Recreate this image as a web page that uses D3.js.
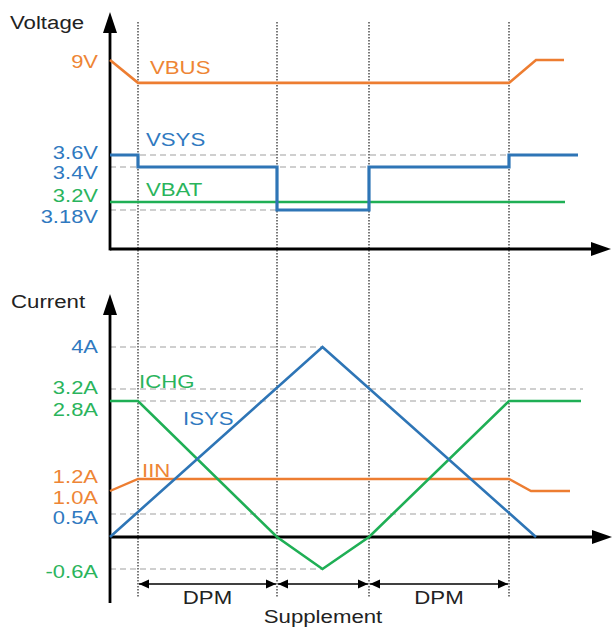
<!DOCTYPE html>
<html><head><meta charset="utf-8">
<script src="https://cdn.jsdelivr.net/npm/d3@7"></script>
<style>
html,body{margin:0;padding:0;background:#fff;}
svg text{font-family:"Liberation Sans",Arial,sans-serif;font-size:19px;}
</style></head>
<body><svg id="c" width="612" height="628"></svg>
<script>
// ---------- data ----------
const phaseTimes = [5.6, 33.4, 51.8, 79.8];           // boundaries between phases
const phaseLabels = ["DPM", "Supplement", "DPM"];

const vbusT = [0, 5.6, 79.8, 85.2, 90.8];
const vbusV = [9, 7.7, 7.7, 9, 9];
const vsysT = [0, 5.6, 5.6, 33.4, 33.4, 51.8, 51.8, 79.8, 79.8, 93.6];
const vsysV = [3.6, 3.6, 3.4, 3.4, 3.18, 3.18, 3.4, 3.4, 3.6, 3.6];
const vbatT = [0, 91];
const vbatV = [3.2, 3.2];

const isysT = [0, 42.5, 85.2];
const isysV = [0, 4, 0];
const ichgT = [0, 5.6, 33.4, 42.5, 51.8, 79.8, 94.2];
const ichgV = [2.8, 2.8, 0, -0.6, 0, 2.8, 2.8];
const iinT = [0, 5.6, 79.8, 84.2, 92];
const iinV = [1.0, 1.2, 1.2, 1.0, 1.0];

const voltTicks = [9, 3.6, 3.4, 3.2, 3.18];
const voltTickLabels = ["9V", "3.6V", "3.4V", "3.2V", "3.18V"];
const voltTickSeries = ["VBUS", "VSYS", "VSYS", "VBAT", "VSYS"];
const currTicks = [4, 3.2, 2.8, 1.2, 1.0, 0.5, -0.6];
const currTickLabels = ["4A", "3.2A", "2.8A", "1.2A", "1.0A", "0.5A", "-0.6A"];
const currTickSeries = ["ISYS", "ICHG", "ICHG", "IIN", "IIN", "ISYS", "ICHG"];

// guide lines: value, end time
const voltGuideV = [3.6, 3.4, 3.18];
const voltGuideEnd = [79.8, 51.8, 33.4];
const currGuideV = [4, 3.2, 2.8, 0.5, -0.6];
const currGuideEnd = [42.5, 94.6, 79.8, 79.8, 42.5];

// ---------- styles ----------
const lineColor = {VBUS:"#ED7D31", VSYS:"#2E75B6", VBAT:"#1FAF55", ISYS:"#2E75B6", ICHG:"#1FAF55", IIN:"#ED7D31"};
const textColor = {VBUS:"#EE8535", VSYS:"#2F79C0", VBAT:"#2AB45C", ISYS:"#2F79C0", ICHG:"#2AB45C", IIN:"#EE8535"};
const SX = 1.17;

const svg = d3.select("#c");
const x = d3.scaleLinear().domain([0, 100]).range([110, 610]);
const yV = d3.scaleLinear().domain([3.18, 3.2, 3.4, 3.6, 9]).range([210, 202, 167, 155, 60]);
const yI = d3.scaleLinear().domain([-0.6, 0, 0.5, 1.0, 1.2, 2.8, 3.2, 4]).range([569, 537, 514, 491, 479, 401, 389, 347]);
const yTopAxis = 249;

function txt(s, px, py, color, anchor) {
  svg.append("text").attr("transform", `translate(${px},${py}) scale(${SX},1)`)
    .attr("text-anchor", anchor || "start").attr("fill", color).text(s);
}

// phase dotted verticals
svg.append("g").selectAll("line").data(phaseTimes).join("line")
  .attr("x1", d => x(d)).attr("x2", d => x(d)).attr("y1", 22).attr("y2", 598)
  .attr("stroke", "#333").attr("stroke-width", 1.3).attr("stroke-dasharray", "1.5,1.5");

// guides
svg.append("g").selectAll("line").data(voltGuideV).join("line")
  .attr("x1", x(0)).attr("x2", (d, i) => x(voltGuideEnd[i])).attr("y1", d => yV(d)).attr("y2", d => yV(d))
  .attr("stroke", "#A0A0A0").attr("stroke-width", 1.2).attr("stroke-dasharray", "6,4");
svg.append("g").selectAll("line").data(currGuideV).join("line")
  .attr("x1", x(0)).attr("x2", (d, i) => x(currGuideEnd[i])).attr("y1", d => yI(d)).attr("y2", d => yI(d))
  .attr("stroke", "#A0A0A0").attr("stroke-width", 1.2).attr("stroke-dasharray", "6,4");

// axes
function arrowUp(cx, tip) {
  svg.append("path").attr("d", `M${cx},${tip}L${cx - 7},${tip + 21}L${cx + 7},${tip + 21}Z`).attr("fill", "#000");
}
function arrowRight(tip, cy) {
  svg.append("path").attr("d", `M${tip},${cy}L${tip - 20},${cy - 7}L${tip - 20},${cy + 7}Z`).attr("fill", "#000");
}
svg.append("line").attr("x1", x(0)).attr("x2", x(0)).attr("y1", yTopAxis + 1.4).attr("y2", 25).attr("stroke", "#000").attr("stroke-width", 2.8);
svg.append("line").attr("x1", x(0)).attr("x2", 596).attr("y1", yTopAxis).attr("y2", yTopAxis).attr("stroke", "#000").attr("stroke-width", 2.8);
arrowUp(x(0), 12); arrowRight(611, yTopAxis);
svg.append("line").attr("x1", x(0)).attr("x2", x(0)).attr("y1", 603).attr("y2", 306).attr("stroke", "#000").attr("stroke-width", 2.8);
svg.append("line").attr("x1", x(0)).attr("x2", 596).attr("y1", yI(0)).attr("y2", yI(0)).attr("stroke", "#000").attr("stroke-width", 2.8);
arrowUp(x(0), 294); arrowRight(612, yI(0));

// series lines
function series(T, V, y, name, w) {
  const pts = T.map((t, i) => [t, V[i]]);
  svg.append("path").datum(pts)
    .attr("d", d3.line().x(d => x(d[0])).y(d => y(d[1])))
    .attr("fill", "none").attr("stroke", lineColor[name]).attr("stroke-width", w || 2.6)
    .attr("stroke-linejoin", "miter");
}
series(vbatT, vbatV, yV, "VBAT", 2.6);
series(vbusT, vbusV, yV, "VBUS", 2.6);
series(vsysT, vsysV, yV, "VSYS", 3.2);
series(iinT, iinV, yI, "IIN", 2.4);
series(ichgT, ichgV, yI, "ICHG", 2.6);
series(isysT, isysV, yI, "ISYS", 2.6);

// tick labels via axes
const voltDy = {"9V": 7, "3.6V": 3, "3.4V": 11, "3.2V": -1, "3.18V": 12};
const currDy = {"4A": 5, "3.2A": 4, "2.8A": 14, "1.2A": 3, "1.0A": 12, "0.5A": 9, "-0.6A": 8};
function tickAxis(scale, ticks, labels, ser, dyMap) {
  const g = svg.append("g").attr("transform", `translate(${x(0)},0)`)
    .call(d3.axisLeft(scale).tickValues(ticks).tickFormat((d, i) => labels[i]).tickSize(0));
  g.select(".domain").remove();
  g.selectAll(".tick text")
    .attr("x", null).attr("dy", null)
    .attr("transform", (d, i) => `translate(-12,${dyMap[labels[i]]}) scale(1.22,1)`)
    .attr("text-anchor", "end")
    .attr("fill", (d, i) => textColor[ser[i]])
    .style("font-size", "18px").style("font-family", '"Liberation Sans",Arial,sans-serif');
}
tickAxis(yV, voltTicks, voltTickLabels, voltTickSeries, voltDy);
tickAxis(yI, currTicks, currTickLabels, currTickSeries, currDy);

// titles and series names
txt("Voltage", 10, 29, "#222");
txt("Current", 11, 308, "#222");
txt("VBUS", 150, 74, textColor.VBUS);
txt("VSYS", 146, 146, textColor.VSYS);
txt("VBAT", 146, 196, textColor.VBAT);
txt("ICHG", 139, 388, textColor.ICHG);
txt("ISYS", 183, 425, textColor.ISYS);
txt("IIN", 142, 477, textColor.IIN);

// phase dimension arrows
const defs = svg.append("defs");
defs.append("marker").attr("id", "ah").attr("viewBox", "0 0 10 10").attr("refX", 10).attr("refY", 5)
  .attr("markerWidth", 10).attr("markerHeight", 10).attr("markerUnits", "userSpaceOnUse").attr("orient", "auto-start-reverse")
  .append("path").attr("d", "M0,0.5L10,5L0,9.5Z").attr("fill", "#000");
const spans = phaseLabels.map((l, i) => ({l, a: phaseTimes[i], b: phaseTimes[i + 1]}));
svg.append("g").selectAll("line").data(spans).join("line")
  .attr("x1", d => x(d.a) + 1).attr("x2", d => x(d.b) - 1).attr("y1", 584).attr("y2", 584)
  .attr("stroke", "#000").attr("stroke-width", 1.6)
  .attr("marker-start", "url(#ah)").attr("marker-end", "url(#ah)");
spans.forEach((d, i) => {
  const cx = (x(d.a) + x(d.b)) / 2;
  txt(d.l, cx, i === 1 ? 623 : 604, "#222", "middle");
});
</script></body></html>
